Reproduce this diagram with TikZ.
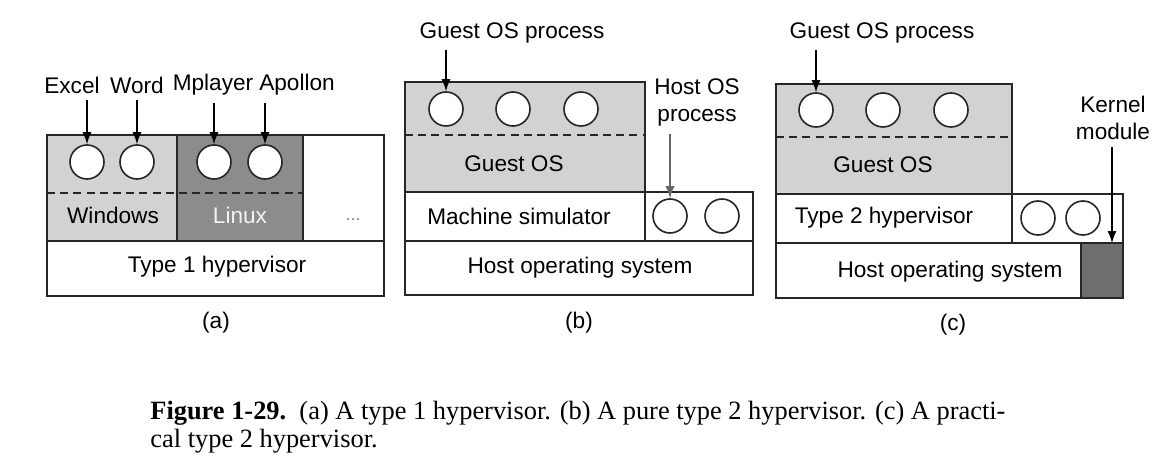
\documentclass[tikz,border=0pt]{standalone}
\usepackage{fontspec}
\setmainfont{Liberation Sans}
\newfontfamily\capfont{Liberation Serif}
\usepackage{tikz}
\usetikzlibrary{arrows.meta}

\definecolor{guestgray}{HTML}{D2D2D2}
\definecolor{linuxgray}{HTML}{8C8C8C}
\definecolor{kernelgray}{HTML}{6E6E6E}

\tikzset{
  layer/.style={draw=black!85, line width=0.8pt},
  proc/.style={circle, draw=black!85, line width=0.8pt, fill=white, minimum size=17pt, inner sep=0pt},
  sep/.style={dash pattern=on 4pt off 2.6pt, line width=0.8pt, black!85},
  pointer/.style={-{Latex[length=6pt,width=4.5pt]}, line width=0.6pt},
  captext/.style={anchor=base west, inner xsep=0pt, font=\capfont\fontsize{13.2}{14}\selectfont},
}

\begin{document}
\begin{tikzpicture}[x=0.5pt,y=-0.5pt, font=\fontsize{11.3}{13.5}\selectfont]
  \useasboundingbox (0,0) rectangle (1168,465);
%%%%%%%%%%%%%%%%%%%%%%%%%%%%%%%%%%%%%%%%%%%%%%%%%%%%%%%%%%%%%%%%%%%%%%%
      \draw[layer,fill=guestgray] (47,135) rectangle (177,241);
      \draw[layer,fill=linuxgray] (177,135) rectangle (303,241);
      \draw[layer] (303,135) rectangle (384,241);
      \draw[layer] (47,241) rectangle (384,296);
      \draw[sep] (47,193) -- (303,193);
      \draw (87,162) node[proc] (excelp) {};
      \draw (137,162) node[proc] (wordp) {};
      \draw (214,162) node[proc] (mplayerp) {};
      \draw (265,162) node[proc] (apollonp) {};
      \draw (72,85) node (excel) {Excel};
      \draw (137,85) node (word) {Word};
      \draw (213,85) node (mplayer) {Mplayer};
      \draw (297,85) node (apollon) {Apollon};
      \draw[pointer] (excelp |- excel.south) -- (excelp);
      \draw[pointer] (wordp |- word.south) -- (wordp);
      \draw[pointer] (mplayerp |- mplayer.south) -- (mplayerp);
      \draw[pointer] (apollonp |- apollon.south) -- (apollonp);
      \draw (113,215) node (windows) {Windows};
      \draw (240,215) node[text=black!5] (linux) {Linux};
      \draw (353,220) node[font=\fontsize{8}{9}\selectfont, text=black!60] (more) {\ldots};
      \draw (217,267) node (type1) {Type 1 hypervisor};
      \draw (216,323) node (capa) {(a)};
%%%%%%%%%%%%%%%%%%%%%%%%%%%%%%%%%%%%%%%%%%%%%%%%%%%%%%%%%%%%%%%%%%%%%%%
      \draw[layer,fill=guestgray] (405,82) rectangle (645,192);
      \draw[layer] (405,192) rectangle (645,241);
      \draw[layer] (645,192) rectangle (753,241);
      \draw[layer] (405,241) rectangle (753,295);
      \draw[sep] (405,135) -- (645,135);
      \draw (446,109) node[proc] (guestp1) {};
      \draw (513,109) node[proc] (guestp2) {};
      \draw (581,109) node[proc] (guestp3) {};
      \draw (670,216) node[proc] (hostp1) {};
      \draw (722,216) node[proc] (hostp2) {};
      \draw (512,33) node (guestlab) {Guest OS process};
      \draw (697,100) node[align=center, text depth=0pt] (hostlab) {Host OS\\process};
      \draw[pointer] (guestp1 |- guestlab.south) -- (guestp1);
      \draw[pointer, black!60] ([yshift=-3pt]hostp1 |- hostlab.south) -- (hostp1);
      \draw (514,164) node (guestos) {Guest OS};
      \draw (519,216) node (simulator) {Machine simulator};
      \draw (580,268) node (hostos) {Host operating system};
      \draw (579,323) node (capb) {(b)};
%%%%%%%%%%%%%%%%%%%%%%%%%%%%%%%%%%%%%%%%%%%%%%%%%%%%%%%%%%%%%%%%%%%%%%%
      \draw[layer,fill=guestgray] (776,84) rectangle (1012,194);
      \draw[layer] (776,194) rectangle (1012,243);
      \draw[layer] (1012,194) rectangle (1123,243);
      \draw[layer] (776,243) rectangle (1123,298);
      \draw[layer,fill=kernelgray] (1081,243) rectangle (1123,298);
      \draw[sep] (776,137) -- (1012,137);
      \draw (816,110) node[proc] (guestq1) {};
      \draw (883,110) node[proc] (guestq2) {};
      \draw (951,110) node[proc] (guestq3) {};
      \draw (1038,218) node[proc] (hostq1) {};
      \draw (1083,218) node[proc] (hostq2) {};
      \coordinate (kmod) at (1112,243);
      \draw (882,33) node (guestlab2) {Guest OS process};
      \draw (1113,118) node[align=center] (kernellab) {Kernel\\module};
      \draw[pointer] (guestq1 |- guestlab2.south) -- (guestq1);
      \draw[pointer] (kmod |- kernellab.south) -- (kmod);
      \draw (883,165) node (guestos2) {Guest OS};
      \draw (884,218) node (type2) {Type 2 hypervisor};
      \draw (950,272) node (hostos2) {Host operating system};
      \draw (953,325) node (capc) {(c)};
%%%%%%%%%%%%%%%%%%%%%%%%%%%%%%%%%%%%%%%%%%%%%%%%%%%%%%%%%%%%%%%%%%%%%%%
      \draw (150,419) node[captext] (cap1) {\textbf{Figure 1-29.}\enspace(a) A type 1 hypervisor. (b) A pure type 2 hypervisor. (c) A practi-};
      \draw (150,447) node[captext] (cap2) {cal type 2 hypervisor.};
\end{tikzpicture}
\end{document}
